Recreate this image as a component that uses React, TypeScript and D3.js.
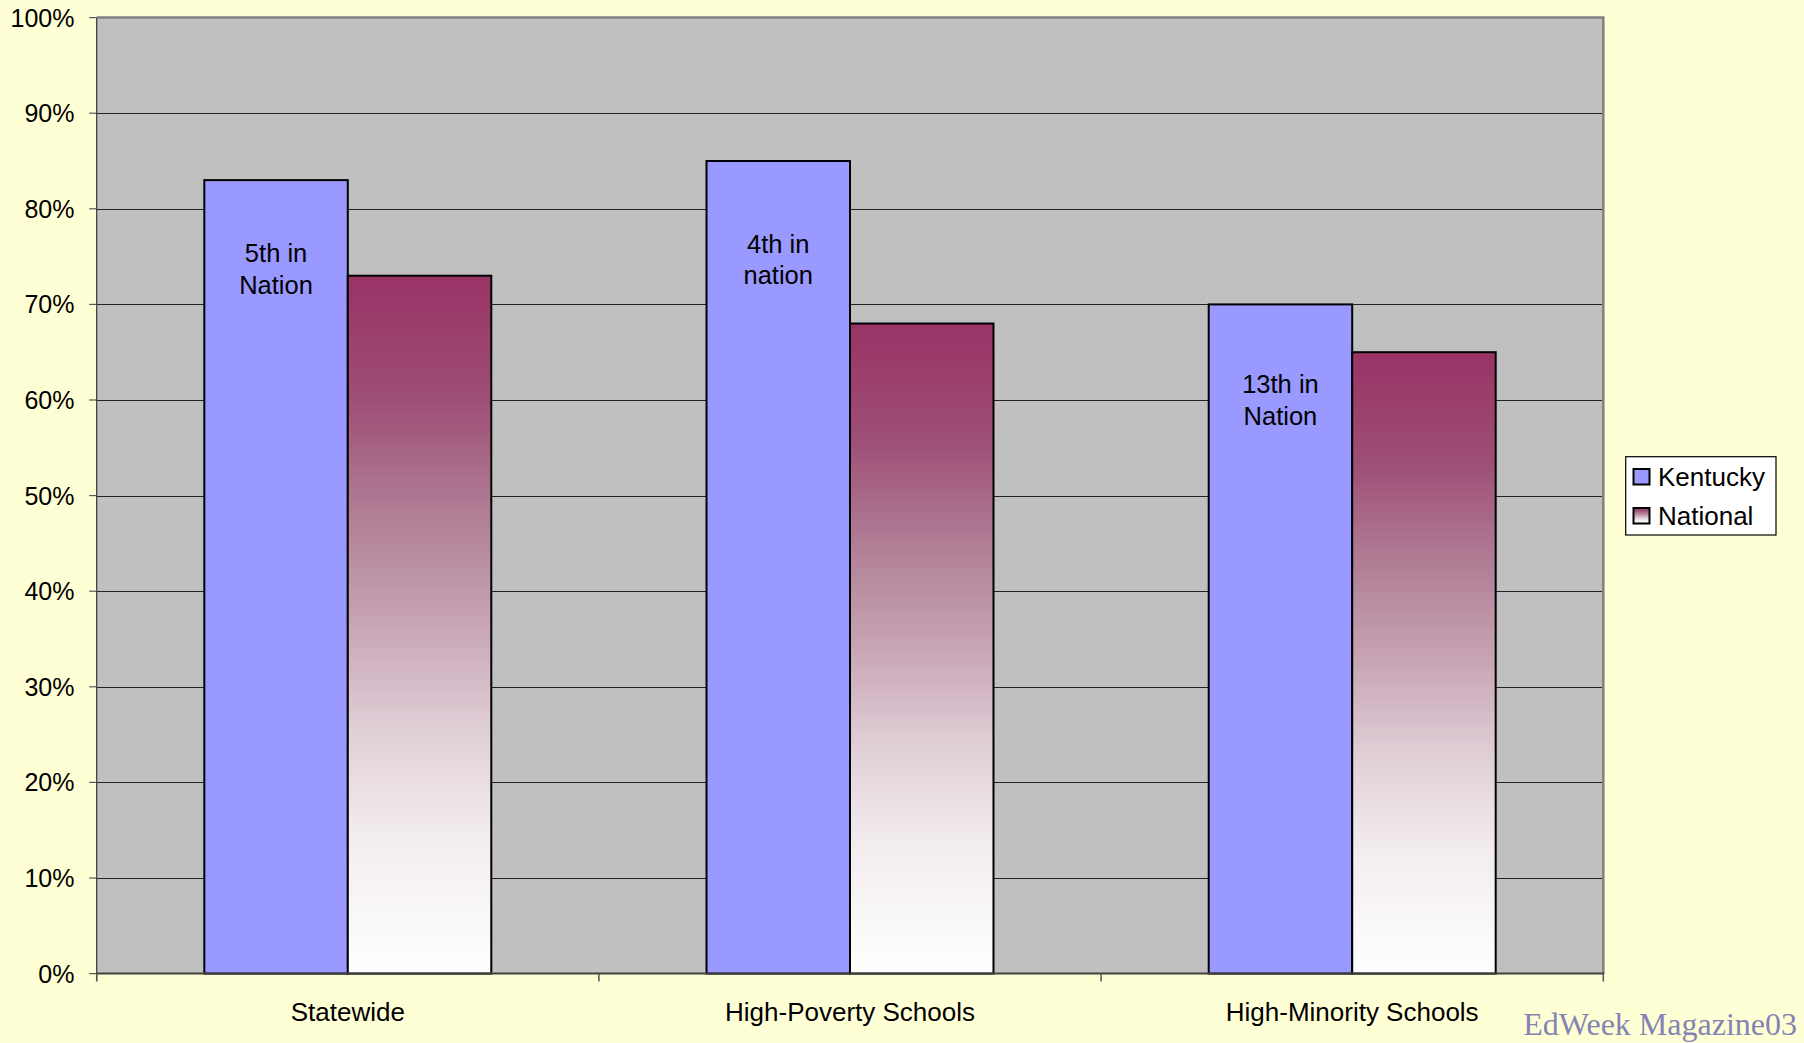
import React from "react";
import * as d3 from "d3";

const categories = ["Statewide", "High-Poverty Schools", "High-Minority Schools"];
const seriesNames = ["Kentucky", "National"];
const kentucky = [83, 85, 70];
const national = [73, 68, 65];
const yTicks = [0, 10, 20, 30, 40, 50, 60, 70, 80, 90, 100];
const barNotes = [
  { category: "Statewide", lines: ["5th in", "Nation"], at: 74.4 },
  { category: "High-Poverty Schools", lines: ["4th in", "nation"], at: 75.4 },
  { category: "High-Minority Schools", lines: ["13th in", "Nation"], at: 60.7 },
];
const watermark = "EdWeek Magazine03";

const gradientStops = [
  { offset: 0, color: "#993366" },
  { offset: 0.18, color: "#9E4F76" },
  { offset: 0.34, color: "#B07E95" },
  { offset: 0.5, color: "#C8A5B5" },
  { offset: 0.65, color: "#E0CFD7" },
  { offset: 0.8, color: "#F2ECEF" },
  { offset: 1, color: "#FFFFFF" },
];

const W = 1804;
const H = 1043;
const plot = { left: 96.7, right: 1603.3, top: 17.6, bottom: 973.6 };

export default function App() {
  const x0 = d3
    .scaleBand<string>()
    .domain(categories)
    .range([plot.left, plot.right])
    .paddingInner(0)
    .paddingOuter(0);
  // Excel gap width 150%: bar width = band / 3.5
  const barW = x0.bandwidth() / 3.5;
  const gapOffset = barW * 0.75;
  const y = d3.scaleLinear().domain([0, 100]).range([plot.bottom, plot.top]);

  const colors = { Kentucky: "#9999FF" };
  const font = "Arial, 'Liberation Sans', Helvetica, sans-serif";

  return (
    <svg
      width={W}
      height={H}
      style={{ position: "absolute", left: 0, top: 0, display: "block" }}
      xmlns="http://www.w3.org/2000/svg"
    >
      <defs>
        <linearGradient id="natGrad" x1="0" y1="0" x2="0" y2="1">
          {gradientStops.map((s) => (
            <stop key={s.offset} offset={s.offset} stopColor={s.color} />
          ))}
        </linearGradient>
      </defs>
      <rect x={0} y={0} width={W} height={H} fill="#FFFFD5" />
      {/* plot area */}
      <rect
        x={plot.left}
        y={plot.top}
        width={plot.right - plot.left}
        height={plot.bottom - plot.top}
        fill="#C0C0C0"
      />
      {/* gridlines */}
      {yTicks.slice(1, -1).map((t) => (
        <line
          key={"g" + t}
          x1={plot.left}
          x2={plot.right}
          y1={Math.round(y(t)) + 0.5}
          y2={Math.round(y(t)) + 0.5}
          stroke="#222"
          strokeWidth={1}
        />
      ))}
      {/* plot border top/right */}
      <path
        d={`M${plot.left},${plot.top} H${plot.right} V${plot.bottom}`}
        fill="none"
        stroke="#808080"
        strokeWidth={2.5}
      />
      {/* bars */}
      {categories.map((c, i) => {
        const bx = (x0(c) as number) + gapOffset;
        return (
          <g key={c}>
            <rect
              x={bx}
              y={y(kentucky[i])}
              width={barW}
              height={y(0) - y(kentucky[i])}
              fill={colors.Kentucky}
              stroke="#000"
              strokeWidth={2}
            />
            <rect
              x={bx + barW}
              y={y(national[i])}
              width={barW}
              height={y(0) - y(national[i])}
              fill="url(#natGrad)"
              stroke="#000"
              strokeWidth={2}
            />
          </g>
        );
      })}
      {/* bar notes */}
      {barNotes.map((n) => {
        const cx = (x0(n.category) as number) + gapOffset + barW / 2;
        return (
          <text
            key={n.category}
            x={cx}
            y={y(n.at)}
            textAnchor="middle"
            fontFamily={font}
            fontSize={25.5}
            fill="#000"
          >
            {n.lines.map((l, k) => (
              <tspan key={k} x={cx} dy={k === 0 ? 0 : 31.7}>
                {l}
              </tspan>
            ))}
          </text>
        );
      })}
      {/* y axis */}
      <line
        x1={plot.left}
        x2={plot.left}
        y1={plot.top}
        y2={plot.bottom + 7}
        stroke="#333"
        strokeWidth={1.2}
      />
      {yTicks.map((t) => (
        <g key={"t" + t}>
          <line
            x1={plot.left - 7.5}
            x2={plot.left}
            y1={y(t)}
            y2={y(t)}
            stroke="#555"
            strokeWidth={1.2}
          />
          <text
            x={74.5}
            y={y(t) + 9}
            textAnchor="end"
            fontFamily={font}
            fontSize={25}
            fill="#000"
          >
            {t + "%"}
          </text>
        </g>
      ))}
      {/* x axis */}
      <line
        x1={plot.left}
        x2={plot.right + 1}
        y1={plot.bottom}
        y2={plot.bottom}
        stroke="#404040"
        strokeWidth={2}
      />
      {[...categories.map((c) => x0(c) as number), plot.right].map((xv, i) => (
        <line
          key={"xt" + i}
          x1={xv}
          x2={xv}
          y1={plot.bottom}
          y2={plot.bottom + 8}
          stroke="#555"
          strokeWidth={1.5}
        />
      ))}
      {categories.map((c) => (
        <text
          key={"xl" + c}
          x={(x0(c) as number) + x0.bandwidth() / 2}
          y={1020.5}
          textAnchor="middle"
          fontFamily={font}
          fontSize={26}
          fill="#000"
        >
          {c}
        </text>
      ))}
      {/* legend */}
      <g>
        <rect x={1625.7} y={456.7} width={150.3} height={78.3} fill="#FFFFFF" stroke="#000" strokeWidth={1.2} />
        {seriesNames.map((s, i) => (
          <g key={s} transform={`translate(0, ${i * 39})`}>
            <rect
              x={1633.5}
              y={469}
              width={16}
              height={15.5}
              fill={i === 0 ? colors.Kentucky : "url(#natGrad)"}
              stroke="#000"
              strokeWidth={2}
            />
            <text x={1658} y={485.5} fontFamily={font} fontSize={26} fill="#000">
              {s}
            </text>
          </g>
        ))}
      </g>
      {/* watermark */}
      <text
        x={1797}
        y={1035}
        textAnchor="end"
        fontFamily="'Times New Roman', 'Liberation Serif', serif"
        fontSize={32}
        fill="#8484B4"
      >
        {watermark}
      </text>
    </svg>
  );
}
